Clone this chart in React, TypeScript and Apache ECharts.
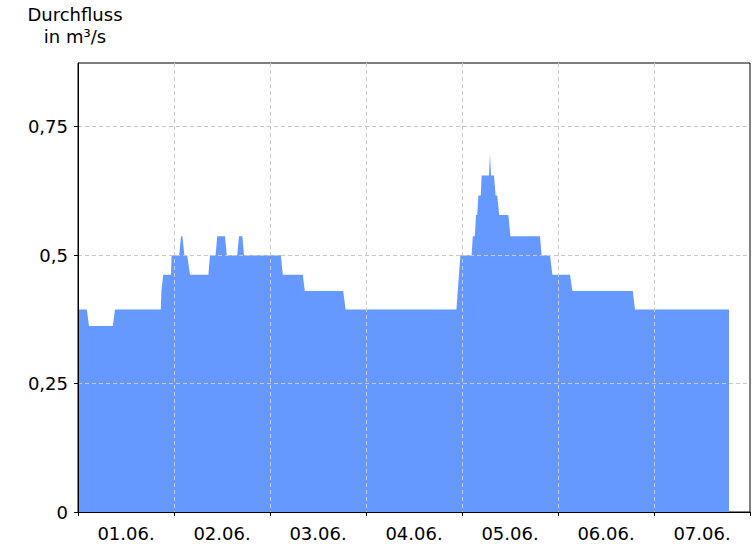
import React, { useEffect, useRef } from "react";
import * as echarts from "echarts";

// hours since 01.06. 00:00
const hours = [
  0, 2.2, 2.75, 8.7, 9.25, 20.7, 20.85, 21.3, 23.25, 23.4, 25.3, 25.75, 26.1, 26.6, 27.3, 28.0,
  32.6, 33.0, 34.4, 34.8, 36.75, 37.2, 39.8, 40.25, 41.1, 41.5, 50.7, 51.2, 56.2, 56.7, 66.3, 66.9,
  94.6, 95.6, 98.4, 98.7, 99.2, 99.5, 99.8, 100.1, 100.7, 100.9, 102.75, 103.0, 103.25, 104.0, 104.4,
  104.8, 105.3, 107.6, 108.1, 115.5, 115.9, 118.0, 118.6, 123.0, 123.6, 138.7, 139.25, 162.75,
];
const flow = [
  0.394, 0.394, 0.362, 0.362, 0.394, 0.394, 0.43, 0.462, 0.462, 0.5, 0.5, 0.537, 0.537, 0.5, 0.5, 0.462,
  0.462, 0.5, 0.5, 0.537, 0.537, 0.5, 0.5, 0.537, 0.537, 0.5, 0.5, 0.462, 0.462, 0.43, 0.43, 0.394,
  0.394, 0.5, 0.5, 0.537, 0.537, 0.578, 0.578, 0.616, 0.616, 0.655, 0.655, 0.697, 0.655, 0.655, 0.616,
  0.616, 0.578, 0.578, 0.537, 0.537, 0.5, 0.5, 0.462, 0.462, 0.43, 0.43, 0.394, 0.394,
];
const dayLabels = ["01.06.", "02.06.", "03.06.", "04.06.", "05.06.", "06.06.", "07.06."];
const yTicks = [0, 0.25, 0.5, 0.75];
const yMax = 0.874;
const title = "Durchfluss\nin m³/s";

const FONT = "DejaVu Sans";

export default function App() {
  const ref = useRef<HTMLDivElement>(null);
  useEffect(() => {
    if (!ref.current) return;
    const chart = echarts.init(ref.current, undefined, { renderer: "svg" });
    const data = hours.map((h, i) => [h, flow[i]]);
    chart.setOption({
      animation: false,
      backgroundColor: "#ffffff",
      grid: {
        left: 78,
        top: 63,
        width: 672,
        height: 449,
        show: true,
        borderColor: "#000000",
        borderWidth: 1,
        backgroundColor: "#ffffff",
      },
      graphic: [
        {
          type: "text",
          x: 75,
          y: 3,
          style: {
            text: title,
            textAlign: "center",
            fontFamily: FONT,
            fontSize: 18,
            lineHeight: 22,
            fill: "#000000",
          },
        },
      ],
      xAxis: [
        {
          type: "value",
          min: 0,
          max: 168,
          interval: 24,
          z: 10,
          axisLine: { show: true, lineStyle: { color: "#000000", width: 1 } },
          axisTick: { show: true, length: 4, lineStyle: { color: "#000000" } },
          axisLabel: { show: false },
          splitLine: {
            show: true,
            showMinLine: false,
            showMaxLine: false,
            lineStyle: { color: "#c8c8c8", type: [4, 3], width: 1 },
          },
        },
        {
          type: "category",
          position: "bottom",
          data: dayLabels,
          boundaryGap: true,
          axisLine: { show: false },
          axisTick: { show: false },
          splitLine: { show: false },
          axisLabel: {
            show: true,
            margin: 12,
            fontFamily: FONT,
            fontSize: 18,
            color: "#000000",
          },
        },
      ],
      yAxis: {
        type: "value",
        min: 0,
        max: yMax,
        interval: 0.25,
        z: 10,
        axisLine: { show: true, lineStyle: { color: "#000000", width: 1 } },
        axisTick: { show: true, length: 4, customValues: yTicks, lineStyle: { color: "#000000" } },
        axisLabel: {
          show: true,
          customValues: yTicks,
          margin: 10,
          fontFamily: FONT,
          fontSize: 18,
          color: "#000000",
          formatter: (v: number) =>
            yTicks.some((t) => Math.abs(t - v) < 1e-6) ? String(v).replace(".", ",") : "",
        },
        splitLine: {
          show: true,
          showMinLine: false,
          lineStyle: { color: "#c8c8c8", type: [4, 3], width: 1 },
        },
      },
      series: [
        {
          type: "line",
          xAxisIndex: 0,
          data,
          showSymbol: false,
          symbol: "none",
          lineStyle: { width: 0, opacity: 0 },
          areaStyle: { color: "#6699ff", opacity: 1 },
          z: 2,
        },
      ],
    });
    return () => chart.dispose();
  }, []);
  return (
    <div
      ref={ref}
      style={{ position: "absolute", left: 0, top: 0, width: 756, height: 546 }}
    />
  );
}
